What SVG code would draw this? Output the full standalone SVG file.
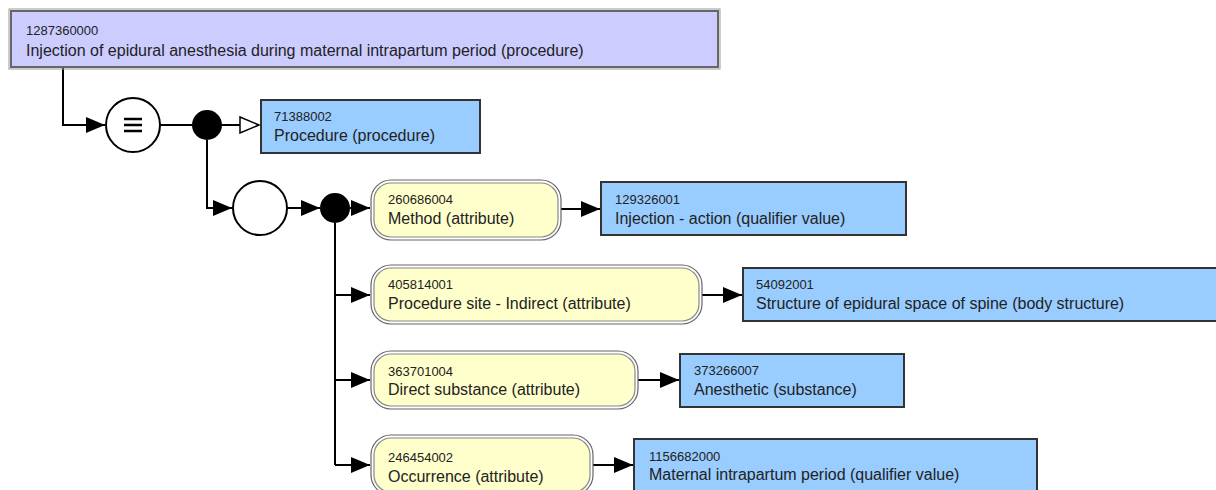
<svg xmlns="http://www.w3.org/2000/svg" width="1216" height="490" viewBox="0 0 1216 490">
<style>
text{font-family:"Liberation Sans",Arial,sans-serif;fill:#222}
.id{font-size:13px}
.nm{font-size:16px}
.val{fill:#99CCFF;stroke:#333;stroke-width:2}
.def{fill:#CCCCFF;stroke:#666;stroke-width:2}
.defo{fill:none;stroke:#999;stroke-width:1}
.atto{fill:#fff;stroke:#666;stroke-width:1.2}
.atti{fill:#FFFFCC;stroke:#888;stroke-width:1.2}
.ln{fill:none;stroke:#000;stroke-width:2}
</style>
<defs>
<marker id="fa" markerUnits="userSpaceOnUse" markerWidth="20" markerHeight="16" refX="19" refY="8" orient="auto">
<path d="M0,0 L19,8 L0,16 Z" fill="#000"/>
</marker>
<marker id="oa" markerUnits="userSpaceOnUse" markerWidth="22" markerHeight="18" refX="20" refY="9" orient="auto">
<path d="M1,1 L20,9 L1,17 Z" fill="#fff" stroke="#000" stroke-width="1.5"/>
</marker>
</defs>

<g id="connectors">
<path class="ln" d="M63,68 V125 H105" marker-end="url(#fa)"/>
<path class="ln" d="M160,125 H192"/>
<path class="ln" d="M222,125 H259" marker-end="url(#oa)"/>
<path class="ln" d="M207,140 V208 H232" marker-end="url(#fa)"/>
<path class="ln" d="M287,208 H320" marker-end="url(#fa)"/>
<path class="ln" d="M350,208 H370" marker-end="url(#fa)"/>
<path class="ln" d="M335,223 V465"/>
<path class="ln" d="M335,295 H370" marker-end="url(#fa)"/>
<path class="ln" d="M335,380 H370" marker-end="url(#fa)"/>
<path class="ln" d="M335,465 H370" marker-end="url(#fa)"/>
<path class="ln" d="M561,209 H600" marker-end="url(#fa)"/>
<path class="ln" d="M702,295 H742" marker-end="url(#fa)"/>
<path class="ln" d="M638,380 H679" marker-end="url(#fa)"/>
<path class="ln" d="M593,465 H633" marker-end="url(#fa)"/>
</g>

<g id="n1287360000">
<rect class="defo" x="9" y="9" width="711" height="60"/>
<rect class="def" x="11" y="11" width="707" height="56"/>
<text class="id" x="26" y="35">1287360000</text>
<text class="nm" x="26" y="56">Injection of epidural anesthesia during maternal intrapartum period (procedure)</text>
</g>

<g id="equiv">
<circle cx="133" cy="125" r="27" fill="#fff" stroke="#000" stroke-width="2"/>
<path d="M124,119 H142 M124,125 H142 M124,131 H142" stroke="#000" stroke-width="2.5"/>
</g>
<g id="conj1"><circle cx="207" cy="125" r="15" fill="#000"/></g>

<g id="n71388002">
<rect class="val" x="261" y="100" width="219" height="53"/>
<text class="id" x="274" y="121">71388002</text>
<text class="nm" x="274" y="141">Procedure (procedure)</text>
</g>

<g id="group"><circle cx="260" cy="208" r="27" fill="#fff" stroke="#000" stroke-width="2"/></g>
<g id="conj2"><circle cx="335" cy="208" r="15" fill="#000"/></g>

<g id="a260686004">
<rect class="atto" x="371" y="180" width="190" height="60" rx="20"/>
<rect class="atti" x="374" y="183" width="184" height="54" rx="17"/>
<text class="id" x="388" y="204">260686004</text>
<text class="nm" x="388" y="224">Method (attribute)</text>
</g>
<g id="n129326001">
<rect class="val" x="601" y="182" width="305" height="53"/>
<text class="id" x="615" y="204">129326001</text>
<text class="nm" x="615" y="224">Injection - action (qualifier value)</text>
</g>

<g id="a405814001">
<rect class="atto" x="371" y="265" width="331" height="59" rx="20"/>
<rect class="atti" x="374" y="268" width="325" height="53" rx="17"/>
<text class="id" x="388" y="289">405814001</text>
<text class="nm" x="388" y="309">Procedure site - Indirect (attribute)</text>
</g>
<g id="n54092001">
<rect class="val" x="743" y="268" width="480" height="53"/>
<text class="id" x="756" y="289">54092001</text>
<text class="nm" x="756" y="309">Structure of epidural space of spine (body structure)</text>
</g>

<g id="a363701004">
<rect class="atto" x="371" y="351" width="267" height="58" rx="20"/>
<rect class="atti" x="374" y="354" width="261" height="52" rx="17"/>
<text class="id" x="388" y="376">363701004</text>
<text class="nm" x="388" y="395">Direct substance (attribute)</text>
</g>
<g id="n373266007">
<rect class="val" x="680" y="354" width="224" height="53"/>
<text class="id" x="694" y="375">373266007</text>
<text class="nm" x="694" y="395">Anesthetic (substance)</text>
</g>

<g id="a246454002">
<rect class="atto" x="371" y="435" width="222" height="60" rx="20"/>
<rect class="atti" x="374" y="438" width="216" height="54" rx="17"/>
<text class="id" x="388" y="462">246454002</text>
<text class="nm" x="388" y="482">Occurrence (attribute)</text>
</g>
<g id="n1156682000">
<rect class="val" x="634" y="439" width="403" height="56"/>
<text class="id" x="649" y="461">1156682000</text>
<text class="nm" x="649" y="480">Maternal intrapartum period (qualifier value)</text>
</g>
</svg>
